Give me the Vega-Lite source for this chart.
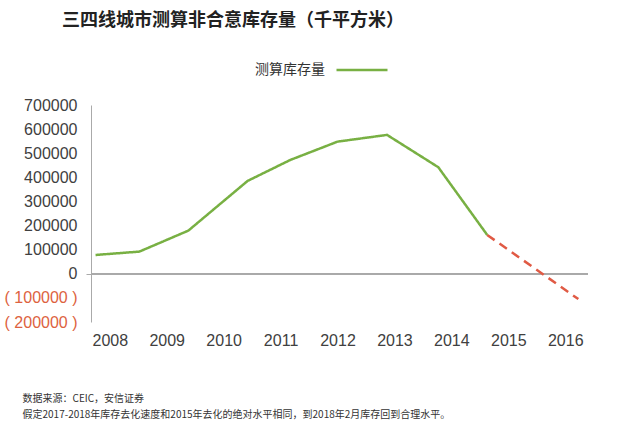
{
  "$schema": "https://vega.github.io/schema/vega-lite/v6.json",
  "width": 497,
  "height": 217,
  "autosize": {"type": "none"},
  "padding": {"left": 91, "top": 105, "right": 29, "bottom": 117},
  "background": "white",
  "config": {
    "view": {"stroke": null},
    "font": "Liberation Sans",
    "axis": {"labelOverlap": false},
    "axisY": {"labelOverlap": false, "labelBound": false}
  },
  "title": {
    "text": "三四线城市测算非合意库存量（千平方米）",
    "anchor": "start",
    "frame": "group",
    "dx": -29,
    "offset": 13,
    "font": "Noto Sans CJK SC",
    "fontSize": 18,
    "fontWeight": "bold",
    "color": "#222222"
  },
  "data": {
    "values": [
      {"t": 2007.75, "v": 78000, "s": "测算库存量"},
      {"t": 2008.52, "v": 92000, "s": "测算库存量"},
      {"t": 2009.38, "v": 179000, "s": "测算库存量"},
      {"t": 2010.42, "v": 385000, "s": "测算库存量"},
      {"t": 2011.17, "v": 472000, "s": "测算库存量"},
      {"t": 2012.0, "v": 548000, "s": "测算库存量"},
      {"t": 2012.87, "v": 576000, "s": "测算库存量"},
      {"t": 2013.77, "v": 442000, "s": "测算库存量"},
      {"t": 2014.63, "v": 161000, "s": "测算库存量"},
      {"t": 2014.63, "v": 161000, "s": "预测"},
      {"t": 2016.23, "v": -105000, "s": "预测"}
    ]
  },
  "encoding": {
    "y": {
      "field": "v",
      "type": "quantitative",
      "scale": {"domain": [-200000, 700000], "nice": false},
      "axis": {
        "values": [-200000, -100000, 0, 100000, 200000, 300000, 400000, 500000, 600000, 700000],
        "grid": false,
        "domain": true,
        "domainColor": "#aaaaaa",
        "ticks": true,
        "tickSize": 5,
        "tickColor": "#aaaaaa",
        "tickOpacity": {"condition": {"test": "datum.value === 0", "value": 1}, "value": 0},
        "labelOverlap": false,
        "labelBound": false,
        "labelFlush": false,
        "labelExpr": "datum.value < 0 ? '( ' + format(-datum.value, 'd') + ' )' : format(datum.value, 'd')",
        "labelColor": {"condition": {"test": "datum.value < 0", "value": "#dd6240"}, "value": "#404040"},
        "labelFont": "Liberation Sans",
        "labelFontSize": 16,
        "labelPadding": 9,
        "title": null
      }
    }
  },
  "layer": [
    {
      "mark": {"type": "rule", "color": "#aaaaaa", "strokeWidth": 1},
      "encoding": {"y": {"datum": 0, "type": "quantitative"}}
    },
    {
      "mark": {"type": "line", "strokeWidth": 2.5},
      "encoding": {
        "x": {
          "field": "t",
          "type": "quantitative",
          "scale": {"domain": [2007.67, 2016.4], "nice": false, "zero": false},
          "axis": {
            "values": [2008, 2009, 2010, 2011, 2012, 2013, 2014, 2015, 2016],
            "format": "d",
            "domain": false,
            "ticks": false,
            "grid": false,
            "labelFlush": false,
            "labelOverlap": false,
            "labelFont": "Liberation Sans",
            "labelFontSize": 16,
            "labelColor": "#404040",
            "labelPadding": 10,
            "title": ["数据来源：CEIC，安信证券", "假定2017-2018年库存去化速度和2015年去化的绝对水平相同，到2018年2月库存回到合理水平。"],
            "titleFont": "Noto Sans CJK SC",
            "titleFontSize": 10,
            "titleFontWeight": "normal",
            "titleColor": "#333333",
            "titleX": -69,
            "titleY": 71,
            "titleAlign": "left",
            "titleAnchor": "start",
            "titleBaseline": "top",
            "titleLineHeight": 16
          }
        },
        "y": {"field": "v", "type": "quantitative"},
        "color": {
          "field": "s",
          "type": "nominal",
          "scale": {"domain": ["测算库存量", "预测"], "range": ["#78b043", "#e05a44"]},
          "legend": {
            "orient": "none",
            "legendX": 244,
            "legendY": -62,
            "values": ["测算库存量"],
            "title": null,
            "labelFont": "Noto Sans CJK SC",
            "labelFontSize": 14,
            "labelColor": "#333333",
            "labelAlign": "right",
            "labelOffset": -64,
            "labelLimit": 200,
            "symbolType": "stroke",
            "symbolSize": 2601,
            "symbolStrokeWidth": 2.5
          }
        },
        "strokeDash": {
          "field": "s",
          "type": "nominal",
          "scale": {"domain": ["测算库存量", "预测"], "range": [[1, 0], [9, 6]]},
          "legend": null
        }
      }
    }
  ]
}
